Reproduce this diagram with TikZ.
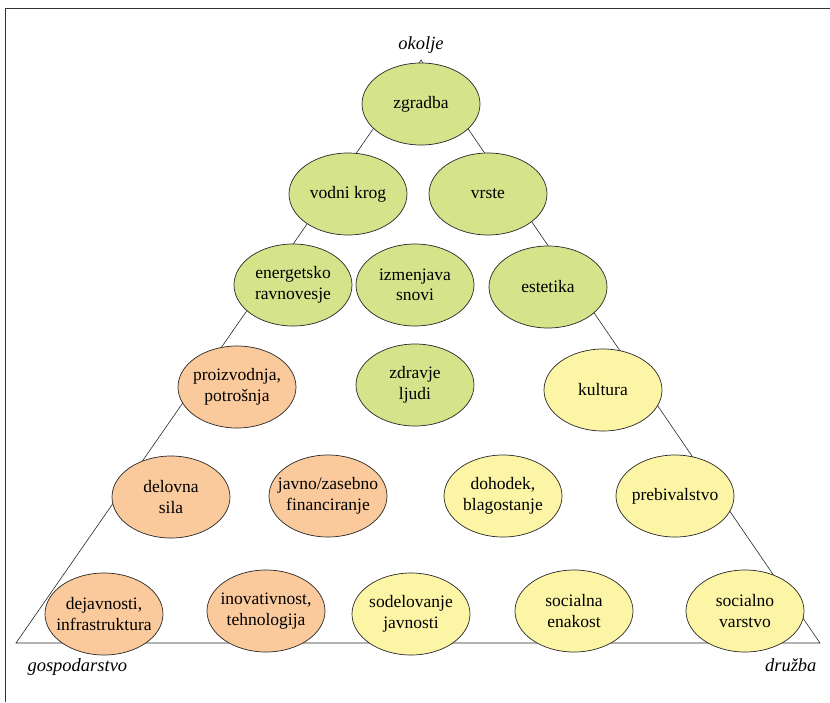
\documentclass[tikz,border=0pt]{standalone}
\usepackage{fontspec}
\setmainfont{Liberation Serif}
\usetikzlibrary{shapes.geometric}
\definecolor{envgreen}{RGB}{213,227,138}
\definecolor{ecoorange}{RGB}{251,202,156}
\definecolor{socyellow}{RGB}{253,245,166}
\definecolor{lineclr}{RGB}{40,40,40}
\tikzset{
  bub/.style={ellipse, draw=lineclr, line width=0.7pt, minimum width=118pt, minimum height=82pt,
    inner xsep=-16pt, inner ysep=0pt, align=center, font=\fontsize{17.5}{20.5}\selectfont, text=black},
  env/.style={bub, fill=envgreen},
  eco/.style={bub, fill=ecoorange},
  soc/.style={bub, fill=socyellow},
  corner/.style={font=\fontsize{18.5}{22}\selectfont\itshape, text=black},
  tri/.style={draw=lineclr, line width=0.6pt},
  frame/.style={draw=black!80, line width=1pt}
}
\begin{document}
\begin{tikzpicture}[x=1pt,y=-1pt]
\useasboundingbox (0,0) rectangle (830,702);
\draw[frame] (5,702) -- (5,8) -- (830,8);
\coordinate (apex) at (421,60);
\coordinate (bl) at (16,643);
\coordinate (br) at (820,643);
\draw[tri] (apex) -- (bl) -- (br) -- cycle;
\node[corner, anchor=base] (okolje) at (421,49) {okolje};
\node[corner, anchor=base west] (gosp) at (24,671) {gospodarstvo};
\node[corner, anchor=base east] (druzba) at (820,671) {družba};

\node[env] (zgradba) at (421,104) {zgradba};
\node[env] (vodni) at (348,194) {vodni krog};
\node[env] (vrste) at (488,194) {vrste};
\node[env] (energ) at (293,285) {energetsko\\ravnovesje};
\node[env] (izmen) at (415,285) {izmenjava\\snovi};
\node[env] (estet) at (548,287) {estetika};
\node[eco] (proiz) at (237,387) {proizvodnja,\\potrošnja};
\node[env] (zdrav) at (415,385) {zdravje\\ljudi};
\node[soc] (kult) at (603,390) {kultura};
\node[eco] (delov) at (171,497) {delovna\\sila};
\node[eco] (javno) at (328,496) {javno/zasebno\\financiranje};
\node[soc] (dohod) at (503,496) {dohodek,\\blagostanje};
\node[soc] (prebiv) at (675,496) {prebivalstvo};
\node[eco] (dejav) at (104,614) {dejavnosti,\\infrastruktura};
\node[eco] (inov) at (266,611) {inovativnost,\\tehnologija};
\node[soc] (sodel) at (411,614) {sodelovanje\\javnosti};
\node[soc] (senak) at (574,611) {socialna\\enakost};
\node[soc] (svar) at (745,611) {socialno\\varstvo};
\end{tikzpicture}
\end{document}
